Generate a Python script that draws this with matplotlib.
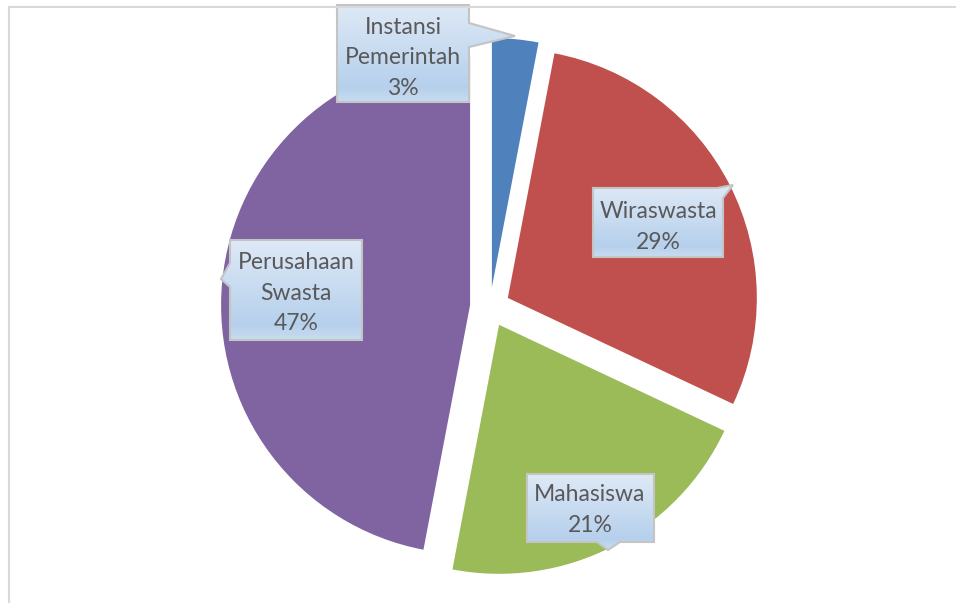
import matplotlib.pyplot as plt
import numpy as np
from matplotlib.path import Path
from matplotlib.patches import PathPatch

# share of graduates by type of work
labels = ['Instansi\nPemerintah', 'Wiraswasta', 'Mahasiswa', 'Perusahaan\nSwasta']
share = [3, 29, 21, 47]
colors = ['#4F81BD', '#C0504D', '#9BBB59', '#8064A2']

W, H = 956, 603
fig = plt.figure(figsize=(W / 100, H / 100), dpi=100)
ax = fig.add_axes([0, 0, 1, 1])

# axes work in pixel units with y growing downwards, so the pie runs
# counterclockwise in data space to look clockwise from the top
ax.pie(share, colors=colors, center=(490, 307), radius=249,
       startangle=-90, counterclock=True, explode=[20] * len(share),
       wedgeprops=dict(linewidth=0))

# callout shapes: outline points (pixels) and text centre
callouts = [
    ([(337, 5), (469, 5), (469, 23), (515, 36), (469, 47), (469, 102), (337, 102)], (403, 57)),
    ([(593, 188), (717, 188), (733, 185), (723, 198), (723, 257), (593, 257)], (658, 226)),
    ([(527, 474), (654, 474), (654, 542), (620, 542), (608, 550), (597, 542), (527, 542)], (590, 509)),
    ([(230, 240), (362, 240), (362, 340), (230, 340), (230, 287), (221, 279), (230, 263)], (296, 292)),
]

# light blue vertical gradient used for the callout fill
t = np.linspace(0, 1, 200)
top = np.array([222, 233, 246]) / 255
mid = np.array([182, 208, 236]) / 255
bot = np.array([200, 220, 240]) / 255
grad = np.where(t[:, None] < 0.85,
                top + (mid - top) * (t[:, None] / 0.85),
                mid + (bot - mid) * ((t[:, None] - 0.85) / 0.15))
grad = grad[:, None, :]

for i in range(len(share)):
    pts, (tx, ty) = callouts[i]
    path = Path(pts + [pts[0]], closed=True)
    edge = PathPatch(path, facecolor='none', edgecolor='#c4c4c4', lw=1.5, zorder=6)
    ax.add_patch(edge)
    xs = [p[0] for p in pts]
    ys = [p[1] for p in pts]
    img = ax.imshow(grad, extent=(min(xs), max(xs), max(ys), min(ys)),
                    origin='upper', aspect='auto', zorder=5, interpolation='bilinear')
    img.set_clip_path(edge)
    ax.text(tx, ty + 1, f'{labels[i]}\n{share[i]}%', ha='center', va='center',
            fontsize=16.5, family='Lato', color='#595959', linespacing=1.58, zorder=7)

# thin frame on the top and left
ax.plot([9.5, W], [7, 7], color='#d9d9d9', lw=1.5, zorder=8)
ax.plot([9.5, 9.5], [7, H], color='#d9d9d9', lw=1.5, zorder=8)

ax.set_xlim(0, W)
ax.set_ylim(H, 0)
ax.set_aspect('auto')
ax.axis('off')

fig.savefig('out.png', dpi=100)
